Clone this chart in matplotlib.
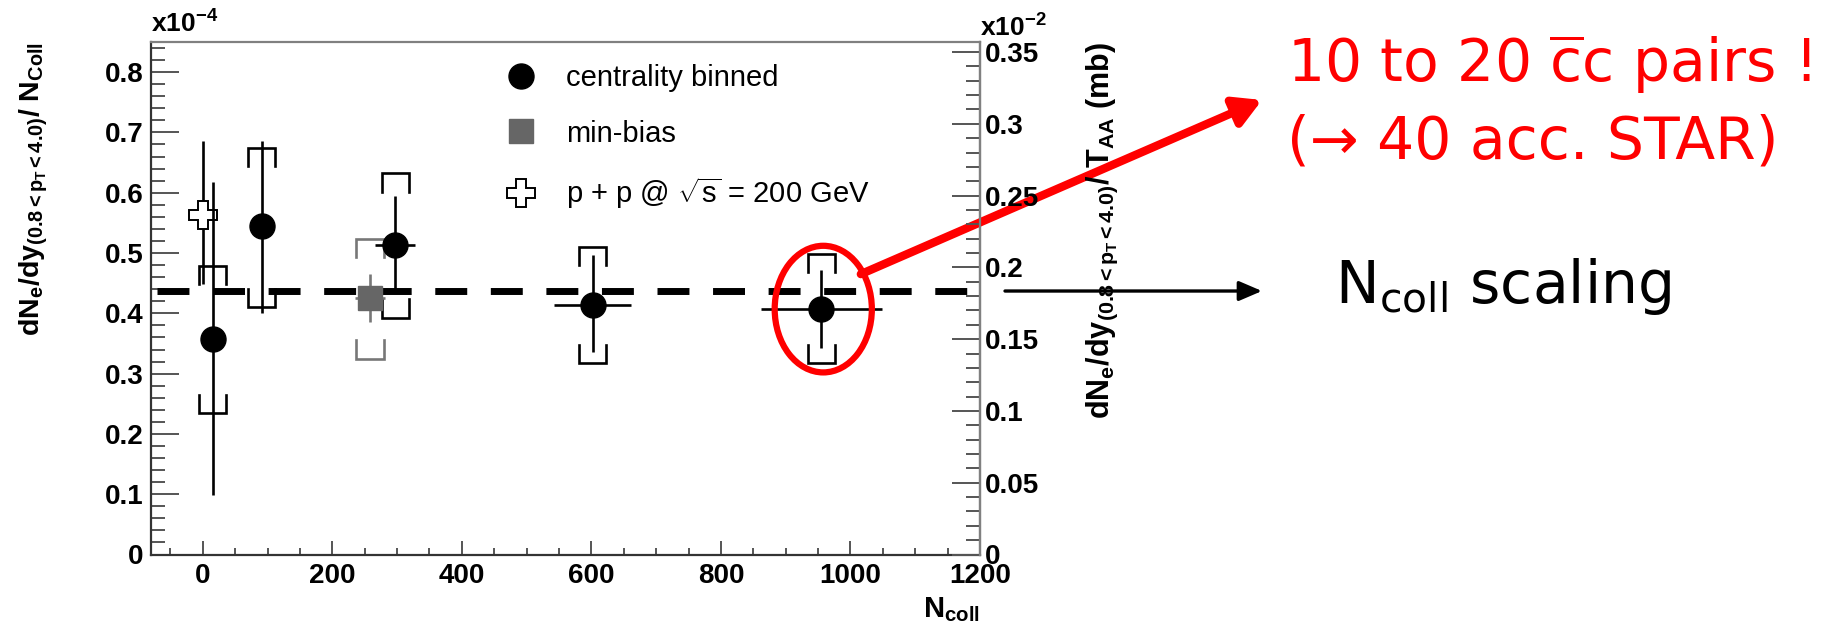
import matplotlib
matplotlib.use("Agg")
import matplotlib.pyplot as plt
from matplotlib.patches import Ellipse
from matplotlib.lines import Line2D
from matplotlib.ticker import MultipleLocator, FixedLocator

plt.rcParams['font.family'] = ['Liberation Sans', 'DejaVu Sans']
plt.rcParams['mathtext.fontset'] = 'custom'
plt.rcParams['mathtext.rm'] = 'Liberation Sans'
plt.rcParams['mathtext.it'] = 'Liberation Sans:italic'
plt.rcParams['mathtext.bf'] = 'Liberation Sans:bold'

# Au+Au centrality binned (yield / Ncoll in units of 1e-4)
ncoll_cent = [15, 91, 297, 602, 955]
ncoll_cent_err = [0, 0, 31, 59, 93]
yield_cent = [0.357, 0.544, 0.514, 0.413, 0.407]
stat_lo_cent = [0.258, 0.144, 0.081, 0.077, 0.065]
stat_hi_cent = [0.260, 0.142, 0.081, 0.084, 0.065]
sys_hi_cent = [0.479, 0.675, 0.632, 0.510, 0.498]
sys_lo_cent = [0.234, 0.411, 0.393, 0.317, 0.318]

# min-bias
ncoll_mb = [258]
ncoll_mb_err = [23]
yield_mb = [0.426]
stat_mb = [0.040]
sys_hi_mb = [0.524]
sys_lo_mb = [0.325]

# p+p @ 200 GeV
ncoll_pp = [1]
yield_pp = [0.563]
stat_lo_pp = [0.114]
stat_hi_pp = [0.123]

# Ncoll scaling level
scale_level = 0.437
scale_x = [-70, 1200]

left_ticks = [0, 0.1, 0.2, 0.3, 0.4, 0.5, 0.6, 0.7, 0.8]
left_labels = ["0", "0.1", "0.2", "0.3", "0.4", "0.5", "0.6", "0.7", "0.8"]
right_ticks = [0, 0.05, 0.1, 0.15, 0.2, 0.25, 0.3, 0.35]
right_labels = ["0", "0.05", "0.1", "0.15", "0.2", "0.25", "0.3", "0.35"]
x_ticks = [0, 200, 400, 600, 800, 1000, 1200]
x_labels = ["0", "200", "400", "600", "800", "1000", "1200"]

sigma_conv = 0.42  # right axis = left axis * 0.42 (x1e-2 mb)

W, H = 1831, 630
fig = plt.figure(figsize=(W / 100, H / 100), dpi=100)
ax = fig.add_axes([151 / W, 1 - 554.5 / H, (980 - 151) / W, (554.5 - 42) / H])
ax.set_xlim(-80, 1200)
ax.set_ylim(0, 0.85)

dark = "#333333"
grey = "#808080"
for s in ["left", "bottom"]:
    ax.spines[s].set_color(dark)
    ax.spines[s].set_linewidth(1.6)
for s in ["top", "right"]:
    ax.spines[s].set_color(grey)
    ax.spines[s].set_linewidth(1.6)

ax.xaxis.set_major_locator(FixedLocator(x_ticks))
ax.set_xticklabels(x_labels)
ax.xaxis.set_minor_locator(MultipleLocator(50))
ax.yaxis.set_major_locator(FixedLocator(left_ticks))
ax.set_yticklabels(left_labels)
ax.yaxis.set_minor_locator(MultipleLocator(0.02))
ax.tick_params(axis="x", which="both", direction="in", top=False, color="#555555", width=1.4, pad=6)
ax.tick_params(axis="x", which="major", length=10)
ax.tick_params(axis="x", which="minor", length=5)
ax.tick_params(axis="y", which="both", direction="in", right=False, color="#555555", width=1.4, pad=5.5)
ax.tick_params(axis="y", which="major", length=20)
ax.tick_params(axis="y", which="minor", length=10)
for lab in ax.get_xticklabels() + ax.get_yticklabels():
    lab.set_fontweight("bold")
    lab.set_fontsize(20)

ax2 = ax.twinx()
ax2.set_position(ax.get_position())
ax2.set_ylim(0, 0.85 * sigma_conv)
for s in ["left", "bottom", "top"]:
    ax2.spines[s].set_visible(False)
ax2.spines["right"].set_color(grey)
ax2.spines["right"].set_linewidth(1.6)
ax2.yaxis.set_major_locator(FixedLocator(right_ticks))
ax2.set_yticklabels(right_labels)
ax2.yaxis.set_minor_locator(MultipleLocator(0.01))
ax2.tick_params(axis="y", which="both", direction="in", color="#555555", width=1.4, pad=3.5)
ax2.tick_params(axis="y", which="major", length=20)
ax2.tick_params(axis="y", which="minor", length=10)
for lab in ax2.get_yticklabels():
    lab.set_fontweight("bold")
    lab.set_fontsize(20)


def brackets(xs, his, los, color, half=21, leg=0.03):
    for xi, h, l in zip(xs, his, los):
        ax.plot([xi - half, xi - half, xi + half, xi + half], [h - leg, h, h, h - leg],
                color=color, lw=1.9, zorder=3, solid_joinstyle="miter")
        ax.plot([xi - half, xi - half, xi + half, xi + half], [l + leg, l, l, l + leg],
                color=color, lw=1.9, zorder=3, solid_joinstyle="miter")


# Ncoll scaling dashed line
ax.plot(scale_x, [scale_level, scale_level], color="black", lw=5, dashes=(4.6, 3.4), zorder=2)

brackets(ncoll_cent, sys_hi_cent, sys_lo_cent, "black")
brackets(ncoll_mb, sys_hi_mb, sys_lo_mb, "#777777")

ax.errorbar(ncoll_pp, yield_pp, yerr=[stat_lo_pp, stat_hi_pp], fmt="P", ms=20,
            mfc="white", mec="black", mew=1.4, color="black", elinewidth=1.9, capsize=0, zorder=4)
ax.errorbar(ncoll_mb, yield_mb, xerr=ncoll_mb_err, yerr=stat_mb, fmt="s", ms=17,
            color="#666666", ecolor="#777777", elinewidth=1.9, capsize=0, zorder=4)
ax.errorbar(ncoll_cent, yield_cent, xerr=ncoll_cent_err, yerr=[stat_lo_cent, stat_hi_cent],
            fmt="o", ms=18, color="black", elinewidth=1.9, capsize=0, zorder=5)

handles = [
    Line2D([], [], marker="o", ls="", color="black", ms=18),
    Line2D([], [], marker="s", ls="", color="#666666", ms=17),
    Line2D([], [], marker="P", ls="", mfc="white", mec="black", mew=1.4, ms=20),
]
labels = ["centrality binned", "min-bias", r"p + p @ $\sqrt{\mathrm{s}}$ = 200 GeV"]
ax.legend(handles, labels, loc="upper left", bbox_to_anchor=(506 / W, 1 - 64 / H),
          bbox_transform=fig.transFigure, frameon=False, fontsize=21, handlelength=1.0,
          handletextpad=1.07, labelspacing=0.95, borderpad=0, borderaxespad=0)

# exponent labels
ax.text(0, 1.008, r"$\mathbf{x10^{-4}}$", transform=ax.transAxes, ha="left", va="bottom", fontsize=19)
ax2.text(1.0, 1.0, r"$\mathbf{x10^{-2}}$", transform=ax2.transAxes, ha="left", va="bottom", fontsize=19)

# axis titles
fig.text(34 / W, 1 - 42 / H, r"$\mathbf{dN_{e}/dy_{(0.8<p_{T}<4.0)}/\ N_{Coll}}$",
         rotation=90, ha="center", va="top", fontsize=20.5)
fig.text(1102 / W, 1 - 42 / H, r"$\mathbf{dN_{e}/dy_{(0.8<p_{T}<4.0)}/\ T_{AA}\ (mb)}$",
         rotation=90, ha="center", va="top", fontsize=22)
fig.text(980 / W, 1 - 617 / H, r"$\mathbf{N_{coll}}$", ha="right", va="baseline", fontsize=21)

# red ellipse around most central point
ax.add_patch(Ellipse((ncoll_cent[-1] + 3, yield_cent[-1]), width=150, height=0.21,
                     fill=False, ec="red", lw=4.5, zorder=7))

# red arrow to annotation
ax.annotate("", xy=(1262 / W, 1 - 100 / H), xycoords="figure fraction",
            xytext=(1016, 0.465), textcoords="data",
            arrowprops=dict(arrowstyle="-|>,head_length=0.8,head_width=0.45", color="red",
                            lw=6, shrinkA=0, shrinkB=0, mutation_scale=20),
            annotation_clip=False, zorder=8)

# black arrow for Ncoll scaling
ax.annotate("", xy=(1262 / W, scale_level), xycoords=("figure fraction", "data"),
            xytext=(1005 / W, scale_level), textcoords=("figure fraction", "data"),
            arrowprops=dict(arrowstyle="-|>,head_length=0.7,head_width=0.3", color="black",
                            lw=2.4, shrinkA=0, shrinkB=0, mutation_scale=20),
            annotation_clip=False, zorder=8)

fig.text(1287 / W, 1 - 82 / H, r"10 to 20 $\overline{\mathrm{c}}$c pairs !", color="red",
         fontsize=42, family="DejaVu Sans", math_fontfamily="dejavusans", va="baseline")
fig.text(1287 / W, 1 - 159 / H, "(\u2192 40 acc. STAR)", color="red",
         fontsize=42, family="DejaVu Sans", va="baseline")
fig.text(1335 / W, 1 - 303 / H, r"N$_{\mathrm{coll}}$ scaling", color="black",
         fontsize=42, family="DejaVu Sans", math_fontfamily="dejavusans", va="baseline")

fig.savefig("out.png", dpi=100)
